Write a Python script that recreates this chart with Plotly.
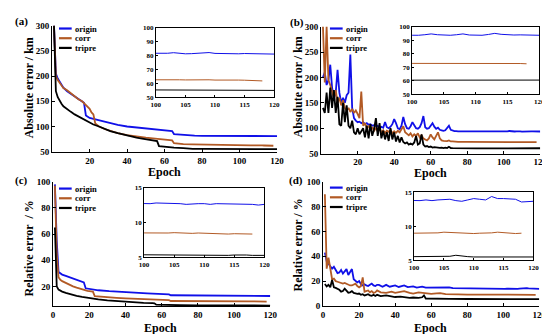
import plotly.graph_objects as go

W, H = 550, 334
FONT = "Liberation Serif"
C_ORIGIN = "#1010e8"
C_CORR = "#b25a25"
C_TRIPRE = "#000000"
NAMES = ["origin", "corr", "tripre"]
E100 = list(range(100, 121))
E100_118 = list(range(100, 119))

# ---------------- panel (a) : absolute error, smooth ----------------
a_origin_x = [1, 2, 3, 4, 5, 6, 8, 10, 12, 14, 16, 17, 18, 20, 22, 25, 28, 31, 35, 40,
              45, 48, 52, 56, 60, 64, 65, 68, 72, 76, 80, 85, 90, 95] + E100
a_origin_y = [300, 205, 195, 188, 182, 177, 170, 165, 160, 155, 150, 147, 122, 117, 115, 112, 110, 107, 103, 100,
              98, 96, 95, 93, 92, 91, 85, 84, 83, 82, 81.5, 81.5, 81.5, 81.5,
              81.5, 81.3, 81.6, 82.0, 81.5, 81.2, 81.3, 81.4, 81.6, 82.1, 81.5, 81.3, 81.2, 81.3, 81.2,
              81.4, 81.3, 81.1, 81.2, 81.0, 81.0]
a_corr_x = [1, 2, 3, 4, 5, 6, 8, 10, 12, 14, 16, 17, 18, 20, 21, 22, 23, 25, 28, 31,
            35, 40, 45, 50, 55, 60, 64, 65, 70, 75, 80, 85, 90, 95] + E100_118
a_corr_y = [300, 200, 192, 186, 180, 176, 172, 166, 160, 154, 150, 146, 142, 135, 128, 124, 106, 100, 95, 91,
            87, 83, 80, 78, 76, 74, 72.5, 67, 65, 64.5, 64, 63.5, 63, 62.8,
            62.6, 62.7, 62.8, 62.9, 62.6, 62.5, 62.6, 62.7, 62.9, 62.6, 62.4, 62.5, 62.4, 62.3, 62.4,
            62.3, 62.2, 62.1, 61.8]
a_tripre_x = [1, 2, 3, 4, 5, 6, 8, 10, 12, 14, 16, 18, 20, 22, 25, 28, 31, 35, 40, 45,
              48, 52, 55, 56, 57, 60, 65, 70, 72, 75, 80, 90, 95] + E100
a_tripre_y = [300, 170, 158, 150, 145, 140, 134, 129, 124, 120, 116, 112, 108, 104, 100, 95, 91, 87, 82, 78,
              76, 74, 72.5, 71, 61, 59.5, 58, 57, 56, 55.8, 55.6, 55.5, 55.4,
              55.4, 55.4, 55.3, 55.4, 55.3, 55.3, 55.2, 55.3, 55.3, 55.2, 55.2, 55.3, 55.2, 55.2, 55.1,
              55.2, 55.2, 55.1, 55.1, 55.1, 55.0]

# ---------------- panel (b) : absolute error, noisy ----------------
b_x = list(range(1, 76)) + [80, 85, 90, 95]
b_origin_y = [200, 210, 185, 195, 225, 180, 160, 170, 215, 170,
              150, 160, 150, 165, 170, 245, 140, 120, 115, 112,
              113, 110, 112, 108, 110, 107, 108, 105, 106, 104,
              105, 100, 103, 101, 112, 102, 100, 103, 108, 118,
              110, 100, 98, 105, 122, 108, 100, 99, 104, 112,
              106, 100, 99, 102, 110, 124, 102, 99, 100, 104,
              110, 103, 99, 101, 97, 96, 95, 96, 100, 105,
              97, 95, 94.5, 94.5, 94,
              94, 93.8, 93.8, 93.7,
              93.5, 93.6, 94.0, 94.6, 94.0, 93.8, 93.6, 94.0, 94.6, 93.8, 93.5,
              93.6, 94.2, 95.0, 94.3, 93.9, 93.8, 93.9, 93.7, 93.5, 93.6]
b_corr_y = [300, 190, 300, 195, 185, 170, 160, 175, 150, 160,
            145, 155, 140, 135, 140, 132, 138, 130, 135, 128,
            120, 172, 105, 110, 100, 105, 96, 102, 95, 100,
            94, 98, 92, 96, 90, 95, 93, 97, 90, 94,
            91, 95, 92, 98, 104, 92, 88, 86, 90, 84,
            88, 85, 90, 82, 86, 80, 78, 76, 80, 88,
            82, 78, 85, 92, 80, 76, 75, 75, 74.5, 76,
            74, 74, 73.5, 73.5, 73,
            73, 73, 73, 73,
            73.0, 73.1, 73.0, 73.2, 73.1, 73.0, 72.9, 73.0, 73.1, 73.0,
            73.0, 73.1, 73.2, 73.3, 73.1, 73.0, 72.9, 72.8, 72.6]
b_tripre_y = [140, 130, 170, 130, 180, 140, 175, 130, 162, 108,
              105, 150, 112, 145, 105, 100, 115, 92, 88, 100,
              88, 95, 100, 82, 105, 80, 108, 85, 98, 120,
              85, 110, 80, 95, 78, 92, 75, 100, 78, 92,
              74, 85, 72, 82, 73, 70, 72, 68, 70, 68,
              72, 85, 68, 70, 88, 68, 64, 65, 63, 64,
              62, 63, 62, 62, 61.5, 62, 61, 62, 61, 63.5,
              61, 60.8, 60.7, 60.6, 60.6,
              60.5, 60.5, 60.5, 60.5,
              60.5, 60.6, 60.5, 60.4, 60.5, 60.6, 60.5, 60.4, 60.4, 60.5, 60.6,
              60.5, 60.4, 60.5, 60.5, 60.4, 60.5, 60.6, 60.5, 60.5, 60.6]

# ---------------- panel (c) : relative error, smooth ----------------
c_origin_x = [1, 2, 3, 4, 5, 7, 9, 11, 13, 15, 17, 18, 20, 22, 25, 31, 35, 40, 46, 52,
              58, 63, 64, 65, 70, 80, 90, 95] + E100
c_origin_y = [98, 55, 31, 30, 29, 28, 27, 26, 25, 24, 23, 18.5, 18, 17.5, 17, 16.3, 15.9, 15.5, 15, 14.6,
              14.2, 14, 13.8, 13.2, 13.1, 13, 12.9, 12.8,
              12.7, 12.7, 12.8, 12.8, 12.7, 12.7, 12.7, 12.6, 12.7, 12.7, 12.7,
              12.6, 12.7, 12.7, 12.6, 12.6, 12.6, 12.6, 12.6, 12.5, 12.6]
c_corr_x = [1, 2, 3, 4, 5, 7, 9, 11, 13, 15, 17, 19, 21, 22, 23, 25, 30, 35, 40, 45,
            50, 55, 60, 63, 64, 65, 70, 80, 90] + E100_118
c_corr_y = [97, 45, 27, 25, 24, 22.5, 21, 20, 19, 18, 17, 16.5, 16.2, 16, 12.5, 12.2, 11.6, 11.2, 10.8, 10.5,
            10.2, 10, 9.7, 9.5, 9.4, 8.8, 8.7, 8.6, 8.55,
            8.5, 8.5, 8.5, 8.45, 8.5, 8.55, 8.5, 8.45, 8.45, 8.5,
            8.45, 8.4, 8.45, 8.4, 8.35, 8.4, 8.35, 8.3, 8.35]
c_tripre_x = [1, 2, 3, 4, 5, 7, 10, 13, 16, 20, 25, 30, 35, 40, 45, 50, 55, 56, 57, 60,
              65, 70, 80, 90, 95] + E100
c_tripre_y = [65, 20, 17.5, 16.5, 16, 15, 13.8, 12.8, 12, 11, 10, 9.2, 8.6, 8, 7.6, 7.3, 7.1, 7, 6, 5.8,
              5.7, 5.6, 5.5, 5.45, 5.4,
              5.35, 5.35, 5.3, 5.35, 5.3, 5.3, 5.3, 5.3, 5.35, 5.3, 5.3,
              5.3, 5.3, 5.3, 5.3, 5.35, 5.4, 5.35, 5.3, 5.3, 5.3]

# ---------------- panel (d) : relative error, noisy ----------------
d_origin_x = list(range(1, 31)) + [31, 33, 35, 37, 40, 42, 45, 47, 50, 52, 55, 57, 60, 63, 66, 70,
                                   72, 75, 80, 85, 90, 95] + E100
d_origin_y = [43, 36, 34, 32, 30, 31.5, 29, 26.5, 27, 29,
              26, 27.7, 29.7, 25, 27, 29.7, 21.5, 20, 19, 20,
              17.5, 16.5, 17.5, 16.5, 16, 17, 18, 16.5, 16, 17,
              17, 15.5, 17, 15.5, 16.5, 15.3, 16.5, 15.2, 15.8, 14.8, 15.5, 14.8, 14.8, 14.6, 14.5, 15,
              14.3, 14.2, 14.1, 14, 14, 13.9,
              13.8, 13.8, 13.9, 13.8, 13.9, 14.0, 14.0, 13.8, 13.7, 13.9, 14.1,
              14.0, 13.9, 14.4, 14.1, 14.1, 14.1, 14.0, 13.6, 13.7, 13.7]
d_corr_x = list(range(1, 31)) + [32, 35, 38, 40, 42, 45, 48, 50, 53, 55, 58, 60, 63, 65, 68, 70,
                                 75, 80, 90] + E100_118
d_corr_y = [90, 30, 39, 28, 21.5, 22, 20, 19.5, 19, 19,
            18, 18.5, 17.7, 17, 16.5, 16.5, 17, 18, 16, 15,
            16, 23, 11.5, 12, 12.5, 11, 12, 10.5, 11, 12.5,
            11, 10.5, 11.5, 10.5, 11, 12, 10.5, 10, 11, 10.5, 10, 9.8, 10.2, 10.4, 9.5, 9.3,
            9.3, 9.2, 9.1,
            9.0, 9.0, 9.0, 9.0, 9.05, 9.15, 9.1, 9.0, 9.0, 8.95,
            8.95, 9.0, 9.0, 9.05, 9.15, 9.05, 8.95, 8.95, 9.0]
d_tripre_x = list(range(1, 31)) + [32, 35, 38, 40, 43, 45, 48, 50, 53, 55, 56, 57, 60, 65, 70,
                                   80, 90] + E100
d_tripre_y = [17.7, 15.7, 17, 15, 21, 15, 14.5, 14, 13, 11.5,
              12, 14, 12, 10.7, 11, 12, 10.5, 10, 9.7, 10,
              9, 9.5, 8.5, 9, 9.5, 8.5, 8.2, 9, 8, 9,
              8, 8.5, 7.5, 7.2, 7.5, 7, 6.5, 6.8, 6.5, 7, 8.5, 6, 5.8, 5.7, 5.65,
              5.6, 5.6,
              5.55, 5.55, 5.55, 5.55, 5.55, 5.55, 5.6, 5.75, 5.6, 5.55, 5.5,
              5.5, 5.5, 5.5, 5.5, 5.5, 5.5, 5.5, 5.5, 5.5, 5.5]

# ---------------- tick labels ----------------
abs_ticks = [50, 100, 150, 200, 250, 300]
rel_ticks_c = [20, 40, 60, 80, 100]
rel_ticks_d = [0, 20, 40, 60, 80, 100]
ep_ticks_ab = [20, 40, 60, 80, 100, 120]
ep_ticks_cd = [0, 20, 40, 60, 80, 100, 120]
inset_ep_ticks = [100, 105, 110, 115, 120]
inset_abs_ticks = [50, 60, 70, 80, 90, 100]
inset_rel_ticks = [5, 10, 15]

panels = [
    dict(lab="(a)", ytitle="Absolute error / km",
         series=[(a_origin_x, a_origin_y), (a_corr_x, a_corr_y), (a_tripre_x, a_tripre_y)],
         mx=(40, 270), my=(13, 143), yr=[50, 300], yt=abs_ticks, xt=ep_ticks_ab,
         ix=(146, 267), iy=(15, 87), iyr=[50, 100], iyt=inset_abs_ticks,
         labpos=(9, 9), ytpos=(16, 77), xtpos=(155, 164), leg=(47, 60, [16, 26, 36])),
    dict(lab="(b)", ytitle="Absolute error / km",
         series=[(b_x + E100, b_origin_y), (b_x + E100_118, b_corr_y), (b_x + E100, b_tripre_y)],
         mx=(315, 539), my=(14, 145), yr=[50, 300], yt=abs_ticks, xt=ep_ticks_ab,
         ix=(408, 538), iy=(14, 84), iyr=[50, 100], iyt=inset_abs_ticks,
         labpos=(290, 10), ytpos=(291, 76), xtpos=(427, 165), leg=(324, 337, [16, 26, 36])),
    dict(lab="(c)", ytitle="Relative error  / %",
         series=[(c_origin_x, c_origin_y), (c_corr_x, c_corr_y), (c_tripre_x, c_tripre_y)],
         mx=(41, 263), my=(174, 302), yr=[5, 100], yt=rel_ticks_c, xt=ep_ticks_cd,
         ix=(134, 257), iy=(180, 252), iyr=[5, 15], iyt=inset_rel_ticks,
         labpos=(9, 173), ytpos=(16, 243), xtpos=(151, 325), leg=(47, 60, [181, 191, 201])),
    dict(lab="(d)", ytitle="Relative error / %",
         series=[(d_origin_x, d_origin_y), (d_corr_x, d_corr_y), (d_tripre_x, d_tripre_y)],
         mx=(317, 538), my=(174, 302), yr=[0, 100], yt=rel_ticks_d, xt=ep_ticks_cd,
         ix=(410, 532), iy=(185, 255), iyr=[5, 15], iyt=inset_rel_ticks,
         labpos=(289, 173), ytpos=(291, 239), xtpos=(427, 325), leg=(324, 337, [180, 190, 200])),
]

COLORS = [C_ORIGIN, C_CORR, C_TRIPRE]


def px_x(v):
    return v / W


def px_y(v):
    return 1 - v / H


fig = go.Figure()
layout = dict(width=W, height=H, margin=dict(l=0, r=0, t=0, b=0),
              paper_bgcolor="white", plot_bgcolor="white", showlegend=False)
annotations = []
shapes = []


def axis(domain, rng, ticks, size, mirror, anchor, ticklen):
    return dict(domain=domain, range=rng, tickvals=ticks, ticktext=[str(t) for t in ticks],
                showgrid=False, zeroline=False, showline=True, linecolor="black", linewidth=1,
                mirror=mirror, ticks="inside", ticklen=ticklen, tickwidth=1, tickcolor="black",
                tickfont=dict(family=FONT, size=size, color="black", weight="bold"),
                anchor=anchor)


for i, p in enumerate(panels):
    m, n = 2 * i + 1, 2 * i + 2
    mxn = "x" if m == 1 else f"x{m}"
    myn = "y" if m == 1 else f"y{m}"
    ixn, iyn = f"x{n}", f"y{n}"
    layout["xaxis" if m == 1 else f"xaxis{m}"] = axis([px_x(p["mx"][0]), px_x(p["mx"][1])], [0, 120],
                                                      p["xt"], 9, False, myn, 3)
    layout["yaxis" if m == 1 else f"yaxis{m}"] = axis([px_y(p["my"][1]), px_y(p["my"][0])], p["yr"],
                                                      p["yt"], 9, False, mxn, 3)
    layout[f"xaxis{n}"] = axis([px_x(p["ix"][0]), px_x(p["ix"][1])], [100, 120],
                               inset_ep_ticks, 7, True, iyn, 2)
    layout[f"yaxis{n}"] = axis([px_y(p["iy"][1]), px_y(p["iy"][0])], p["iyr"],
                               p["iyt"], 7, True, ixn, 2)
    for (xs, ys), col, nm in zip(p["series"], COLORS, NAMES):
        fig.add_trace(go.Scatter(x=xs, y=ys, mode="lines", name=nm, xaxis=mxn, yaxis=myn,
                                 line=dict(color=col, width=1.8), cliponaxis=True))
    for (xs, ys), col, nm in zip(p["series"], COLORS, NAMES):
        fig.add_trace(go.Scatter(x=xs, y=ys, mode="lines", name=nm, xaxis=ixn, yaxis=iyn,
                                 line=dict(color=col, width=1), cliponaxis=True))
    annotations.append(dict(text=f"<b>{p['lab']}</b>", x=px_x(p["labpos"][0]), y=px_y(p["labpos"][1]),
                            xref="paper", yref="paper", showarrow=False, xanchor="center", yanchor="middle",
                            font=dict(family=FONT, size=11, color="black")))
    annotations.append(dict(text=f"<b>{p['ytitle']}</b>", x=px_x(p["ytpos"][0]), y=px_y(p["ytpos"][1]),
                            xref="paper", yref="paper", showarrow=False, textangle=-90,
                            xanchor="center", yanchor="middle",
                            font=dict(family=FONT, size=12, color="black")))
    annotations.append(dict(text="<b>Epoch</b>", x=px_x(p["xtpos"][0]), y=px_y(p["xtpos"][1]),
                            xref="paper", yref="paper", showarrow=False, xanchor="center", yanchor="middle",
                            font=dict(family=FONT, size=12, color="black")))
    lx0, lx1, rows = p["leg"]
    for nm, col, ry in zip(NAMES, COLORS, rows):
        shapes.append(dict(type="line", xref="paper", yref="paper", x0=px_x(lx0), x1=px_x(lx1),
                           y0=px_y(ry), y1=px_y(ry), line=dict(color=col, width=2.2)))
        annotations.append(dict(text=f"<b>{nm}</b>", x=px_x(lx1 + 1), y=px_y(ry), xref="paper", yref="paper",
                                showarrow=False, xanchor="left", yanchor="middle",
                                font=dict(family=FONT, size=8.5, color="black")))

layout["annotations"] = annotations
layout["shapes"] = shapes
fig.update_layout(**layout)
fig.write_html("out.html")
